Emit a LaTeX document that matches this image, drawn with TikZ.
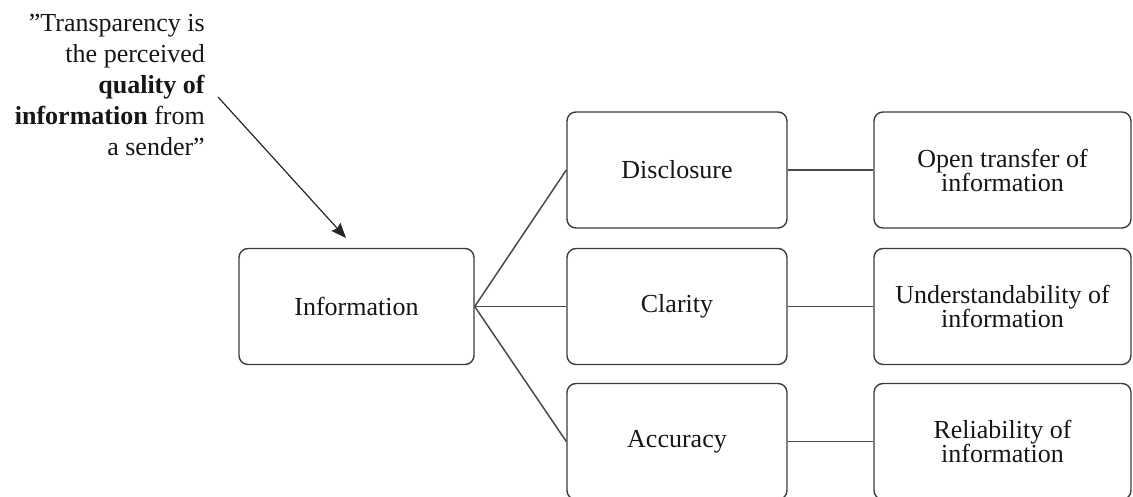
\documentclass[tikz,border=0pt]{standalone}
\usepackage{fontspec}
\setmainfont{Liberation Serif}
\usetikzlibrary{arrows.meta}
\definecolor{edge}{HTML}{3C3C3C}
\definecolor{link}{HTML}{4A4A4A}
\definecolor{ink}{HTML}{161616}
\tikzset{
  box/.style={draw=edge, line width=1.4pt, rounded corners=9pt,
    minimum height=116pt, inner sep=2pt, align=center, text=ink,
    font=\fontsize{26}{24}\selectfont},
  midbox/.style={box, minimum width=220pt},
  endbox/.style={box, minimum width=257pt},
  branch/.style={draw=link, line width=1.5pt},
  pointer/.style={draw=black!85, line width=1.2pt,
    -{Stealth[length=15pt,width=12pt,inset=2pt]}}
}
\begin{document}
\begin{tikzpicture}[x=1pt,y=-1pt]
\useasboundingbox (0,0) rectangle (1133,497);

% definition quote
\node[anchor=north east, inner sep=0pt, align=right, text=ink,
  font=\fontsize{26}{31}\selectfont] (quote) at (205,14)
  {”Transparency is\\ the perceived\\ \textbf{quality of}\\
   \textbf{information} from\\ a sender”};

% concept and its three facets
\node[box, minimum width=235pt] (info) at (356.5,306.5) {Information};
\node[midbox] (disc) at (677,170) {Disclosure};
\node[midbox] (clar) at (677,306.5) {Clarity};
\node[midbox] (acc)  at (677,441.5) {Accuracy};

% descriptions
\node[endbox] (open) at (1002.5,170) {Open transfer of\\information};
\node[endbox] (und)  at (1002.5,306.5) {Understandability of\\information};
\node[endbox] (rel)  at (1002.5,441.5) {Reliability of\\information};

% branches
\draw[branch] (info.east) -- (disc.west);
\draw[branch] (info.east) -- (clar.west);
\draw[branch] (info.east) -- (acc.west);
\draw[branch] (disc.east) -- (open.west);
\draw[branch] (clar.east) -- (und.west);
\draw[branch] (acc.east) -- (rel.west);

% pointer from the quote to the concept
\coordinate (qtail) at (218,97);
\coordinate (qtip) at (346,238);
\draw[pointer] (qtail) -- (qtip);
\end{tikzpicture}
\end{document}
